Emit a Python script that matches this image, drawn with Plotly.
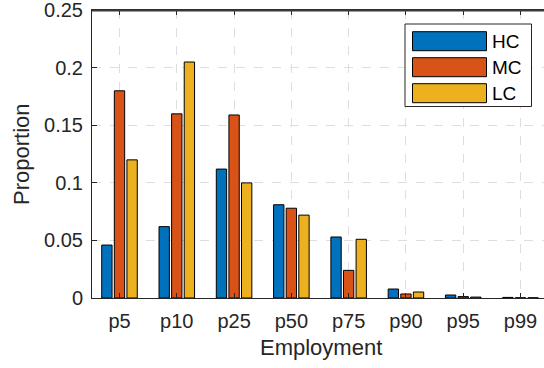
import plotly.graph_objects as go

# Employment percentiles and the share of each group
categories = ["p5", "p10", "p25", "p50", "p75", "p90", "p95", "p99"]
hc = [0.046, 0.062, 0.112, 0.081, 0.053, 0.0078, 0.0026, 0.0005]
mc = [0.180, 0.160, 0.159, 0.078, 0.024, 0.0035, 0.0012, 0.0002]
lc = [0.120, 0.205, 0.100, 0.072, 0.051, 0.0052, 0.0008, 0.0002]
series = [("HC", hc, "#0072BD"), ("MC", mc, "#D95319"), ("LC", lc, "#EDB120")]

y_ticks = [0, 0.05, 0.1, 0.15, 0.2, 0.25]
y_ticktext = ["0", "0.05", "0.1", "0.15", "0.2", "0.25"]

positions = list(range(1, len(categories) + 1))
axis_color = "#262626"
grid_color = "#dedede"
font_family = "Liberation Sans, Arial, Helvetica, sans-serif"

W, H = 544, 368
ML, MR, MT, MB = 92, 0, 10, 70
x_range = [0.52, 8.41]
y_range = [0, 0.2502]

fig = go.Figure()
for name, vals, color in series:
    fig.add_trace(go.Bar(
        x=positions, y=vals, name=name,
        marker=dict(color=color, line=dict(color="black", width=1)),
        showlegend=False,
    ))

fig.update_layout(
    template="none",
    width=W, height=H,
    margin=dict(l=ML, r=MR, t=MT, b=MB, autoexpand=False),
    paper_bgcolor="white", plot_bgcolor="white",
    barmode="group", bargap=0.34, bargroupgap=0.18,
    font=dict(family=font_family, color=axis_color, size=20),
    xaxis=dict(
        range=x_range, tickvals=positions, ticktext=categories,
        ticks="inside", ticklen=5, tickcolor=axis_color, tickwidth=1,
        showline=True, linecolor=axis_color, linewidth=1, mirror="ticks",
        showgrid=True, gridcolor=grid_color, griddash="dash", gridwidth=1,
        zeroline=False, tickfont=dict(size=20), ticklabelstandoff=5,
        automargin=False,
    ),
    yaxis=dict(
        range=y_range, tickvals=y_ticks, ticktext=y_ticktext,
        ticks="inside", ticklen=5, tickcolor=axis_color, tickwidth=1,
        showline=True, linecolor=axis_color, linewidth=1,
        showgrid=True, gridcolor=grid_color, griddash="dash", gridwidth=1,
        zeroline=False, tickfont=dict(size=20), ticklabelstandoff=4,
        ticklabeloverflow="allow", automargin=False,
    ),
)

# axis titles
fig.add_annotation(
    text="Proportion", xref="paper", yref="paper", x=0, y=0.5,
    xshift=-71, textangle=-90, showarrow=False,
    font=dict(size=22, color=axis_color), xanchor="center", yanchor="middle",
)
fig.add_annotation(
    text="Employment", xref="paper", yref="paper", x=0.5, y=0,
    xshift=3, yshift=-49, showarrow=False,
    font=dict(size=22, color=axis_color), xanchor="center", yanchor="middle",
)

# legend box with wide swatches
PW = W - ML - MR
PH = H - MT - MB


def px_x(p):
    return (p - ML) / PW


def px_y(p):
    return (H - MB - p) / PH


# top edge of the axes box
fig.add_shape(type="line", xref="paper", yref="paper", x0=0, x1=1,
              y0=px_y(10.5), y1=px_y(10.5),
              line=dict(color="#3a3a3a", width=2), layer="above")

fig.add_shape(type="rect", xref="paper", yref="paper",
              x0=px_x(405), x1=px_x(531.5), y0=px_y(106.5), y1=px_y(24),
              fillcolor="white", line=dict(color=axis_color, width=1), layer="above")
row_tops = [31.7, 57.7, 83.7]
for (name, _, color), top in zip(series, row_tops):
    fig.add_shape(type="rect", xref="paper", yref="paper",
                  x0=px_x(412.5), x1=px_x(486.5), y0=px_y(top + 19), y1=px_y(top),
                  fillcolor=color, line=dict(color="black", width=1), layer="above")
    fig.add_annotation(text=name, xref="paper", yref="paper",
                       x=px_x(490), y=px_y(top + 9.5), showarrow=False,
                       xanchor="left", yanchor="middle",
                       font=dict(size=19, color="black"))

fig.write_html("out.html")
